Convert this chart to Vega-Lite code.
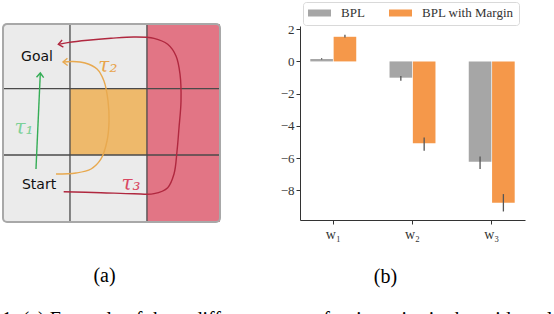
{
  "$schema": "https://vega.github.io/schema/vega-lite/v6.json",
  "padding": {"left": 2, "top": 1, "right": 0, "bottom": 0},
  "background": "white",
  "config": {"view": {"stroke": null}, "axis": {"labelOverlap": false}},
  "resolve": {"scale": {"color": "independent", "fill": "independent", "stroke": "independent"}, "legend": {"color": "independent", "fill": "independent", "stroke": "independent"}},
  "title": {"text": "1: (a) Example of three different types of trajectories in the grid world", "orient": "bottom", "anchor": "start", "frame": "bounds", "font": "Liberation Serif", "fontSize": 20, "fontWeight": "normal", "color": "#000", "dx": 0, "offset": 23, "baseline": "top"},
  "datasets": {
    "cells": [
      {"x": 0, "x2": 0.926, "y": 0, "y2": 1.015, "kind": "free"},
      {"x": 0.926, "x2": 1.99, "y": 0, "y2": 1.015, "kind": "free"},
      {"x": 1.99, "x2": 3, "y": 0, "y2": 1.015, "kind": "danger"},
      {"x": 0, "x2": 0.926, "y": 1.015, "y2": 2.02, "kind": "free"},
      {"x": 0.926, "x2": 1.99, "y": 1.015, "y2": 2.02, "kind": "cost"},
      {"x": 1.99, "x2": 3, "y": 1.015, "y2": 2.02, "kind": "danger"},
      {"x": 0, "x2": 0.926, "y": 2.02, "y2": 3, "kind": "free"},
      {"x": 0.926, "x2": 1.99, "y": 2.02, "y2": 3, "kind": "free"},
      {"x": 1.99, "x2": 3, "y": 2.02, "y2": 3, "kind": "danger"}
    ],
    "gridlines": [
      {"x": 0.926, "x2": 0.926, "y": 0, "y2": 3},
      {"x": 1.99, "x2": 1.99, "y": 0, "y2": 3},
      {"x": 0, "x2": 3, "y": 1.015, "y2": 1.015},
      {"x": 0, "x2": 3, "y": 2.02, "y2": 2.02}
    ],
    "border": [{"x": 0, "x2": 3, "y": 0, "y2": 3}],
    "paths": [
      {"traj": "τ1", "i": 0, "x": 0.456, "y": 0.803},
      {"traj": "τ1", "i": 1, "x": 0.516, "y": 2.258},
      {"traj": "τ2", "i": 0, "x": 0.733, "y": 0.727},
      {"traj": "τ2", "i": 1, "x": 1.009, "y": 0.742},
      {"traj": "τ2", "i": 2, "x": 1.217, "y": 0.803},
      {"traj": "τ2", "i": 3, "x": 1.355, "y": 0.955},
      {"traj": "τ2", "i": 4, "x": 1.438, "y": 1.227},
      {"traj": "τ2", "i": 5, "x": 1.466, "y": 1.53},
      {"traj": "τ2", "i": 6, "x": 1.452, "y": 1.833},
      {"traj": "τ2", "i": 7, "x": 1.396, "y": 2.136},
      {"traj": "τ2", "i": 8, "x": 1.3, "y": 2.318},
      {"traj": "τ2", "i": 9, "x": 1.134, "y": 2.409},
      {"traj": "τ2", "i": 10, "x": 0.968, "y": 2.432},
      {"traj": "τ2", "i": 11, "x": 0.83, "y": 2.424},
      {"traj": "τ3", "i": 0, "x": 0.839, "y": 0.459},
      {"traj": "τ3", "i": 1, "x": 1.355, "y": 0.444},
      {"traj": "τ3", "i": 2, "x": 1.811, "y": 0.429},
      {"traj": "τ3", "i": 3, "x": 2.088, "y": 0.429},
      {"traj": "τ3", "i": 4, "x": 2.277, "y": 0.52},
      {"traj": "τ3", "i": 5, "x": 2.364, "y": 0.727},
      {"traj": "τ3", "i": 6, "x": 2.406, "y": 1.076},
      {"traj": "τ3", "i": 7, "x": 2.433, "y": 1.424},
      {"traj": "τ3", "i": 8, "x": 2.461, "y": 1.833},
      {"traj": "τ3", "i": 9, "x": 2.447, "y": 2.242},
      {"traj": "τ3", "i": 10, "x": 2.392, "y": 2.515},
      {"traj": "τ3", "i": 11, "x": 2.277, "y": 2.692},
      {"traj": "τ3", "i": 12, "x": 2.088, "y": 2.783},
      {"traj": "τ3", "i": 13, "x": 1.811, "y": 2.803},
      {"traj": "τ3", "i": 14, "x": 1.493, "y": 2.783},
      {"traj": "τ3", "i": 15, "x": 1.171, "y": 2.753},
      {"traj": "τ3", "i": 16, "x": 0.895, "y": 2.717},
      {"traj": "τ3", "i": 17, "x": 0.765, "y": 2.692}
    ],
    "heads": [
      {"traj": "τ1", "x": 0.516, "y": 2.258, "heading": 273},
      {"traj": "τ2", "x": 0.83, "y": 2.424, "heading": 178},
      {"traj": "τ3", "x": 0.765, "y": 2.692, "heading": 170}
    ],
    "trajlabels": [
      {"traj": "τ1", "text": "τ₁", "x": 0.29, "y": 1.43},
      {"traj": "τ2", "text": "τ₂", "x": 1.45, "y": 2.37},
      {"traj": "τ3", "text": "τ₃", "x": 1.77, "y": 0.57}
    ],
    "places": [
      {"text": "Goal", "x": 0.47, "y": 2.5},
      {"text": "Start", "x": 0.498, "y": 0.561}
    ],
    "bars": [
      {"w": "w₁", "method": "BPL", "value": 0.15, "lo": 0.12, "hi": 0.2},
      {"w": "w₁", "method": "BPL with Margin", "value": 1.53, "lo": 1.48, "hi": 1.65},
      {"w": "w₂", "method": "BPL", "value": -1.01, "lo": -1.2, "hi": -0.9},
      {"w": "w₂", "method": "BPL with Margin", "value": -5.09, "lo": -5.55, "hi": -4.72},
      {"w": "w₃", "method": "BPL", "value": -6.23, "lo": -6.68, "hi": -5.9},
      {"w": "w₃", "method": "BPL with Margin", "value": -8.78, "lo": -9.32, "hi": -8.24}
    ]
  },
  "hconcat": [
    {
      "width": 217,
      "height": 196,
      "title": {"text": "(a)", "orient": "bottom", "anchor": "middle", "frame": "group", "font": "Liberation Serif", "fontSize": 20, "fontWeight": "normal", "color": "#000", "dx": -7, "offset": 43},
      "resolve": {"scale": {"fill": "independent"}},
      "layer": [
        {
          "data": {"name": "cells"},
          "mark": {"type": "rect"},
          "encoding": {
            "x": {"field": "x", "type": "quantitative", "scale": {"domain": [0, 3], "nice": false, "zero": false}, "axis": null},
            "x2": {"field": "x2"},
            "y": {"field": "y", "type": "quantitative", "scale": {"domain": [0, 2.9697], "nice": false, "zero": false}, "axis": null},
            "y2": {"field": "y2"},
            "fill": {"field": "kind", "type": "nominal", "scale": {"domain": ["free", "cost", "danger"], "range": ["#ebebeb", "#eeb96b", "#e27585"]}, "legend": null}
          }
        },
        {
          "data": {"name": "gridlines"},
          "mark": {"type": "rule", "color": "#4a4a4a", "strokeWidth": 1.3},
          "encoding": {
            "x": {"field": "x", "type": "quantitative"},
            "x2": {"field": "x2"},
            "y": {"field": "y", "type": "quantitative"},
            "y2": {"field": "y2"}
          }
        },
        {
          "data": {"name": "border"},
          "mark": {"type": "rect", "fill": null, "fillOpacity": 0, "stroke": "#a8a8a8", "strokeWidth": 2, "cornerRadius": 4},
          "encoding": {
            "x": {"field": "x", "type": "quantitative"},
            "x2": {"field": "x2"},
            "y": {"field": "y", "type": "quantitative"},
            "y2": {"field": "y2"}
          }
        },
        {
          "data": {"name": "paths"},
          "mark": {"type": "line", "interpolate": "catmull-rom", "strokeWidth": 1.4},
          "encoding": {
            "x": {"field": "x", "type": "quantitative"},
            "y": {"field": "y", "type": "quantitative"},
            "order": {"field": "i", "type": "quantitative"},
            "detail": {"field": "traj", "type": "nominal"},
            "stroke": {"field": "traj", "type": "nominal", "scale": {"domain": ["τ1", "τ2", "τ3"], "range": ["#34ad55", "#e8a94f", "#b0283f"]}, "legend": null}
          }
        },
        {
          "data": {"name": "heads"},
          "mark": {"type": "point", "shape": "M-1,-0.8L0,0L-1,0.8", "filled": false, "size": 81, "strokeWidth": 1.4, "opacity": 1},
          "encoding": {
            "x": {"field": "x", "type": "quantitative"},
            "y": {"field": "y", "type": "quantitative"},
            "angle": {"field": "heading", "type": "quantitative", "scale": {"domain": [0, 360], "range": [0, 360]}},
            "stroke": {"field": "traj", "type": "nominal", "scale": {"domain": ["τ1", "τ2", "τ3"], "range": ["#34ad55", "#e8a94f", "#b0283f"]}, "legend": null}
          }
        },
        {
          "data": {"name": "trajlabels"},
          "mark": {"type": "text", "font": "DejaVu Serif", "fontStyle": "italic", "fontSize": 20, "align": "center", "baseline": "middle"},
          "encoding": {
            "x": {"field": "x", "type": "quantitative"},
            "y": {"field": "y", "type": "quantitative"},
            "text": {"field": "text"},
            "fill": {"field": "traj", "type": "nominal", "scale": {"domain": ["τ1", "τ2", "τ3"], "range": ["#7dd198", "#e8a44c", "#d94862"]}, "legend": null}
          }
        },
        {
          "data": {"name": "places"},
          "mark": {"type": "text", "font": "DejaVu Sans", "fontSize": 14, "align": "center", "baseline": "middle", "color": "#111"},
          "encoding": {
            "x": {"field": "x", "type": "quantitative"},
            "y": {"field": "y", "type": "quantitative"},
            "text": {"field": "text"}
          }
        }
      ]
    },
    {
      "width": 225,
      "height": 194,
      "title": {"text": "(b)", "orient": "bottom", "anchor": "middle", "frame": "group", "font": "Liberation Serif", "fontSize": 20, "fontWeight": "normal", "color": "#000", "dx": -27, "offset": 26},
      "data": {"name": "bars"},
      "layer": [
        {
          "mark": {"type": "bar"},
          "encoding": {
            "x": {"field": "w", "type": "nominal", "sort": null, "scale": {"paddingInner": 0.42, "paddingOuter": 0.13},
                  "axis": {"title": null, "labelAngle": 0, "labelFont": "Liberation Serif", "labelFontSize": 14, "labelColor": "#333", "tickSize": 4, "tickColor": "#333", "domainColor": "#333", "labelPadding": 3}},
            "xOffset": {"field": "method", "type": "nominal", "sort": ["BPL", "BPL with Margin"], "scale": {"paddingInner": 0.03}},
            "y": {"field": "value", "type": "quantitative", "scale": {"domain": [-9.85, 2.2], "nice": false},
                  "axis": {"title": null, "values": [-8, -6, -4, -2, 0, 2], "grid": false, "labelOverlap": false, "labelFont": "Liberation Serif", "labelFontSize": 13, "labelColor": "#333", "tickSize": 4, "tickColor": "#333", "domainColor": "#333", "labelPadding": 2}},
            "color": {"field": "method", "type": "nominal", "scale": {"domain": ["BPL", "BPL with Margin"], "range": ["#a6a6a6", "#f5984a"]},
                      "legend": {"title": null, "orient": "none", "legendX": 3, "legendY": -24, "direction": "horizontal", "fillColor": "white", "strokeColor": "#d9d9d9", "cornerRadius": 3, "padding": 5, "clipHeight": 12, "symbolType": "M-1,-0.3L1,-0.3L1,0.3L-1,0.3Z", "symbolSize": 529, "symbolStrokeWidth": 0, "labelFont": "Liberation Serif", "labelFontSize": 13, "labelColor": "#333", "labelOffset": 10, "columnPadding": 24}}
          }
        },
        {
          "mark": {"type": "rule", "color": "#555", "strokeWidth": 1.3},
          "encoding": {
            "x": {"field": "w", "type": "nominal", "sort": null},
            "xOffset": {"field": "method", "type": "nominal", "sort": ["BPL", "BPL with Margin"]},
            "y": {"field": "lo", "type": "quantitative",
                  "axis": {"title": null, "values": [-8, -6, -4, -2, 0, 2], "grid": false, "labelOverlap": false, "labelFont": "Liberation Serif", "labelFontSize": 13, "labelColor": "#333", "tickSize": 4, "tickColor": "#333", "domainColor": "#333", "labelPadding": 2}},
            "y2": {"field": "hi"}
          }
        }
      ]
    }
  ],
  "spacing": 59
}
